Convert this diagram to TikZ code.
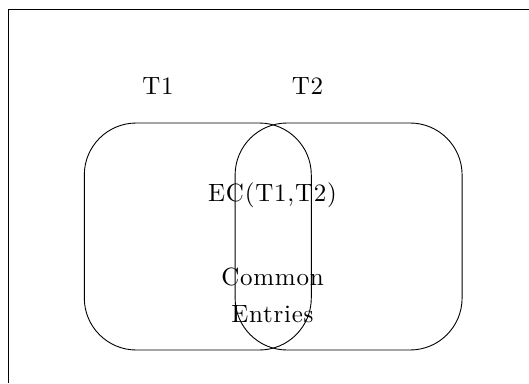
\documentclass[tikz,border=0pt]{standalone}
\usepackage{fontspec}
\setmainfont{lmroman10-regular}[Extension=.otf, LetterSpace=3]
\tikzset{
  setbox/.style={draw, line width=0.9pt, rounded corners=52pt, minimum width=227pt, minimum height=227pt, inner sep=0pt},
  lbl/.style={anchor=base, inner sep=0pt, font=\fontsize{25}{30}\selectfont},
}
\begin{document}
\begin{tikzpicture}[x=1pt,y=-1pt]
\useasboundingbox (0,0) rectangle (529,383);
\draw[line width=0.9pt] (8,383) -- (8,9.5) -- (529,9.5);
\node[setbox] (t1box) at (197.8,236.5) {};
\node[setbox] (t2box) at (348.6,236.5) {};
\node[lbl] (t1) at (158,94) {T1};
\node[lbl] (t2) at (307.5,94) {T2};
\node[lbl] (ec) at (272.5,201.5) {EC(T1,T2)};
\node[lbl] (common) at (272.5,285) {Common};
\node[lbl] (entries) at (272.5,322.5) {Entries};
\end{tikzpicture}
\end{document}
